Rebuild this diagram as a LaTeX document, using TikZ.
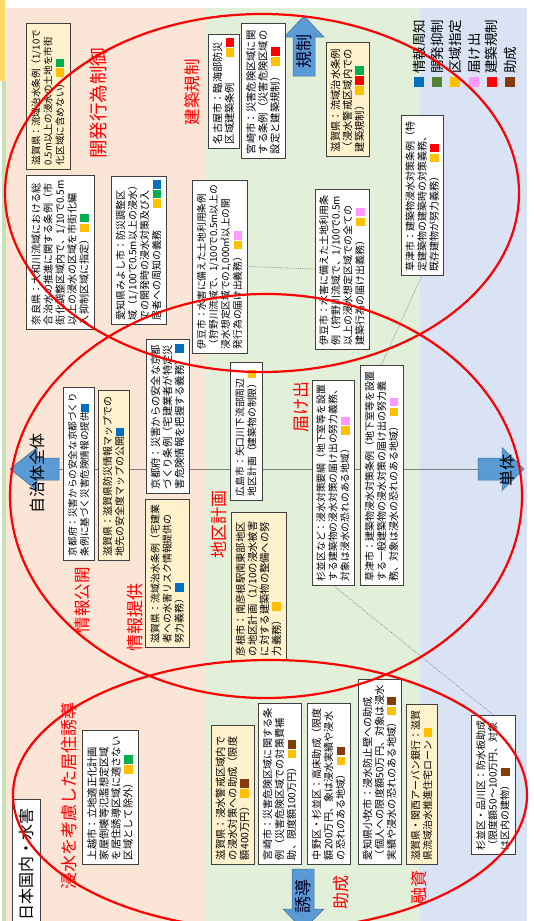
\documentclass[tikz,border=0pt]{standalone}
\usepackage{fontspec}
\setmainfont{Noto Sans CJK JP}
\definecolor{bgS}{HTML}{FBE5D6}
\definecolor{bgG}{HTML}{E2F0D9}
\definecolor{bgB}{HTML}{DAE3F3}
\definecolor{stripY}{HTML}{FFD966}
\definecolor{stripG}{HTML}{C5E0B4}
\definecolor{boxY}{HTML}{FFF2CC}
\definecolor{edge}{HTML}{404040}
\definecolor{cB}{HTML}{0070C0}
\definecolor{cG}{HTML}{00B050}
\definecolor{cGl}{HTML}{548235}
\definecolor{cY}{HTML}{FFC000}
\definecolor{cP}{HTML}{FF99FF}
\definecolor{cR}{HTML}{FF0000}
\definecolor{cBr}{HTML}{843C0C}
\definecolor{arrB}{HTML}{5B9BD5}
\definecolor{arrE}{HTML}{41719C}
\definecolor{axc}{HTML}{7F7F7F}
\newcommand\fs[1]{\fontsize{#1pt}{12pt}\selectfont}
\newcommand\sqr[1]{\textcolor{#1}{\rule[-0.08em]{0.85em}{0.85em}}\hspace{1.2pt}}
\tikzset{
  bx/.style={draw=edge, line width=0.6pt, fill=white, rotate=90, inner xsep=4pt, inner ysep=2pt, align=left},
  lbl/.style={rotate=90, text=cR, inner sep=0pt},
  arrtxt/.style={rotate=90, inner sep=0pt},
  legt/.style={rotate=90, anchor=west, inner sep=0pt, font=\fs{13.5}},
  ell/.style={draw=cR, line width=2.2pt},
  blk/.style={fill=arrB, draw=arrE, line width=0.5pt},
  dotc/.style={draw=axc, line width=0.6pt, dash pattern=on 1pt off 1.2pt},
}
\begin{document}
\begin{tikzpicture}[x=1pt,y=-1pt]
\useasboundingbox (0,0) rectangle (533,921);
\clip (0,0) rectangle (533,921);
\fill[white] (0,0) rectangle (533,921);
% backgrounds
\fill[stripY] (0,0) rectangle (5,81);
\fill[stripG] (2,81) rectangle (6,921);
\fill[bgS] (6,8) rectangle (205,921);
\fill[bgG] (205,8) rectangle (420,921);
\fill[bgB] (420,8) rectangle (527,921);
% axis
\coordinate (axL) at (59,469);
\coordinate (axR) at (478,469);
\draw[axc, line width=0.8pt] (axL) -- (axR);
% arrows
\filldraw[blk] (10,469) -- (37,447.5) -- (37,458) -- (59,458) -- (59,480) -- (37,480) -- (37,490.5) -- cycle;
\filldraw[blk] (524,469) -- (502,447.5) -- (502,458) -- (478,458) -- (478,480) -- (502,480) -- (502,490.5) -- cycle;
\filldraw[blk] (304,16) -- (324,37) -- (315,37) -- (315,76) -- (293,76) -- (293,37) -- (284,37) -- cycle;
\filldraw[blk] (303,930) -- (283,909) -- (292,909) -- (292,869) -- (314,869) -- (314,909) -- (324,909) -- cycle;
% legend
\fill[cB]  (414.3,77) rectangle (424.3,87);
\fill[cGl] (432.3,77) rectangle (442.3,87);
\fill[cY]  (450.3,77) rectangle (460.3,87);
\fill[cP]  (469,77) rectangle (479,87);
\fill[cR]  (486.8,77) rectangle (496.8,87);
\fill[cBr] (505.2,77) rectangle (515.2,87);
\node[legt] (lg1) at (419.3,74) {情報周知};
\node[legt] (lg2) at (437.3,74) {開発抑制};
\node[legt] (lg3) at (455.3,74) {区域指定};
\node[legt] (lg4) at (474,74) {届け出};
\node[legt] (lg5) at (491.8,74) {建築規制};
\node[legt] (lg6) at (510.2,74) {助成};
% boxes
\node[bx, fill=boxY, text width=138pt, minimum height=44pt, font=\fs{9.6}] (B1) at (48,96) {滋賀県：流域治水条例（1/10で\\0.5m以上の浸水の土地を市街\\化区域に含めない）\hspace{2pt}\sqr{cY}\sqr{cG}};
\node[bx, text width=146pt, minimum height=68pt, font=\fs{10.1}] (B2) at (60,252) {奈良県：大和川流域における総\\合治水の推進に関する条例（市\\街化調整区域内で、1/10で0.5m\\以上の浸水の区域を市街化編\\入抑制区域に指定）\hspace{2pt}\sqr{cY}\sqr{cG}};
\node[bx, text width=140pt, minimum height=55pt, font=\fs{10}] (B3) at (138.5,250) {愛知県みよし市：防災調整区\\域（1/100で0.5m以上の浸水）\\での開発時の浸水対策及び入\\居者への周知の義務\hfill\sqr{cY}\sqr{cG}\sqr{cB}\hspace{4pt}};
\node[bx, text width=165pt, minimum height=55pt, font=\fs{9.7}] (B4) at (219.5,266.5) {伊豆市：水害に備えた土地利用条例\\（狩野川流域で、1/100で0.5m以上の\\浸水想定区域での1,000㎡以上の開\\発行為の届け出義務）\hspace{3pt}\sqr{cY}\sqr{cP}};
\node[bx, text width=106pt, minimum height=31pt, font=\fs{10.2}] (B5) at (223.5,91) {名古屋市：臨海部防災\\区域建築条例\hfill\sqr{cY}\sqr{cR}};
\node[bx, text width=127pt, minimum height=44pt, font=\fs{10.3}] (B6) at (263,90.5) {宮崎市：災害危険区域に関\\する条例（災害危険区域の\\設定と建築規制）\hspace{6pt}\sqr{cY}\sqr{cR}};
\node[bx, fill=boxY, text width=106pt, minimum height=43pt, font=\fs{10.3}] (B7) at (347.5,99) {滋賀県：流域治水条例\\（浸水警戒区域内での\\建築規制）\hspace{6pt}\sqr{cY}\sqr{cR}\sqr{cG}};
\node[bx, text width=152pt, minimum height=42pt, font=\fs{10}] (B8) at (422,195) {草津市：建築物浸水対策条例（特\\定建築物の建築時の対策義務、\\既存建物が努力義務）\hspace{9pt}\sqr{cY}\sqr{cR}};
\node[bx, text width=152pt, minimum height=54pt, font=\fs{10}] (B9) at (342,269) {伊豆市：水害に備えた土地利用条\\例（狩野川流域で、1/100で0.5m\\以上の浸水想定区域での全ての\\建築行為の届け出義務）\hspace{9pt}\sqr{cY}\sqr{cP}};
\node[bx, text width=165pt, minimum height=31pt, font=\fs{9.6}] (B10) at (78.5,473.5) {京都府：災害からの安全な京都づくり\\条例に基づく災害危険情報の提供\sqr{cB}};
\node[bx, fill=boxY, text width=162pt, minimum height=31pt, font=\fs{10}] (B11) at (113.5,475) {滋賀県：滋賀県防災情報マップでの\\地先の安全度マップの公開\sqr{cB}};
\node[bx, text width=146pt, minimum height=43pt, font=\fs{10.3}] (B12) at (167.5,416) {京都府：災害からの安全な京都\\づくり条例（宅建業者が特定災\\害危険情報を把握する義務）\hspace{2pt}\sqr{cB}};
\node[bx, fill=boxY, text width=140pt, minimum height=44pt, font=\fs{9.9}] (B13) at (167,573) {滋賀県：流域治水条例（宅建業\\者への水害リスク情報提供の\\努力義務）\hspace{2pt}\sqr{cB}};
\node[bx, text width=130pt, minimum height=32pt, font=\fs{9.8}] (B14) at (246,431) {広島市：矢口川下流部周辺\\地区計画（建築物の制限）\sqr{cY}};
\node[bx, fill=boxY, text width=140pt, minimum height=55pt, font=\fs{10.3}] (B15) at (258.5,586) {彦根市：南彦根駅南東部地区\\の地区計画（1/10の浸水被害\\に対する建築物の整備への努\\力義務）\hspace{4pt}\sqr{cY}};
\node[bx, text width=197pt, minimum height=42pt, font=\fs{9.8}] (B16) at (333,482.5) {杉並区など：浸水対策要綱（地下室等を設置\\する建築物の浸水対策の届け出の努力義務、\\対象は浸水の恐れのある地域）\hspace{9pt}\sqr{cY}\sqr{cP}};
\node[bx, text width=212pt, minimum height=43pt, font=\fs{10}] (B17) at (381.5,475) {草津市：建築物浸水対策条例（地下室等を設置\\する一般建築物の浸水対策の届け出の努力義\\務、対象は浸水の恐れのある地域）\hspace{5pt}\sqr{cY}\sqr{cP}};
\node[bx, text width=126pt, minimum height=56pt, font=\fs{10.3}] (B18) at (110,797) {上越市：立地適正化計画\\家屋倒壊等氾濫想定区域\\を居住誘導区域に適さない\\区域として除外）\hspace{4pt}\sqr{cY}\sqr{cG}};
\node[bx, fill=boxY, text width=131pt, minimum height=43pt, font=\fs{10.3}] (B19) at (232.5,794.5) {滋賀県：浸水警戒区域内で\\の浸水対策への助成（限度\\額400万円）\hspace{4pt}\sqr{cY}\sqr{cBr}};
\node[bx, text width=153pt, minimum height=43pt, font=\fs{10.1}] (B20) at (279.5,783.5) {宮崎市：災害危険区域に関する条\\例（災害危険区域での対策費補\\助、限度額100万円）\hspace{4pt}\sqr{cY}\sqr{cBr}};
\node[bx, text width=153pt, minimum height=43pt, font=\fs{10.1}] (B21) at (328.5,783.5) {中野区・杉並区：高床助成（限度\\額200万円、象は浸水実績や浸水\\の恐れのある地域）\hspace{4pt}\sqr{cY}\sqr{cBr}};
\node[bx, text width=177pt, minimum height=43pt, font=\fs{10.2}] (B22) at (379.5,771.5) {愛知県小牧市：浸水防止壁への助成\\（個人への限度額50万円、対象は浸水\\実績や浸水の恐れのある地域）\hspace{2pt}\sqr{cY}\sqr{cBr}};
\node[bx, fill=boxY, text width=152pt, minimum height=31pt, font=\fs{10}] (B23) at (421.5,784) {滋賀県・関西アーバン銀行：滋賀\\県流域治水推進住宅ローン\hspace{4pt}\sqr{cY}};
\node[bx, text width=131pt, minimum height=44pt, font=\fs{10}] (B24) at (493,784.5) {杉並区・品川区：防水板助成\\（限度額50～100万円、対象\\は区内の建物）\hspace{4pt}\sqr{cBr}};
\node[bx, align=center, text width=122pt, minimum height=28pt, font=\fs{16}] (T) at (26,864) {日本国内・水害};
% dotted connectors
\draw[dotc] (B4.south) -- (B9.north);
\draw[dotc] (B8.west) -- (B17.east);
\draw[dotc] (B16.west) -- (B24.east);
% ellipses
\draw[ell] (262,193) ellipse [x radius=257pt, y radius=179pt];
\draw[ell] (266,496) ellipse [x radius=256pt, y radius=202pt];
\draw[ell] (270,795) ellipse [x radius=257pt, y radius=135pt];
% arrow texts
\node[arrtxt, font=\fs{16}] (tZ) at (37,473) {自治体全体};
\node[arrtxt, font=\fs{16}] (tT) at (507,470) {単体};
\node[arrtxt, font=\fs{17}, text={black!85!blue}] (tK) at (304,51) {規制};
\node[arrtxt, font=\fs{17}, text={black!85!blue}] (tY) at (303,896) {誘導};
% red labels
\node[lbl, font=\fs{18.5}] (L1) at (99,103) {開発行為制御};
\node[lbl, font=\fs{16.5}] (L2) at (192,92) {建築規制};
\node[lbl, font=\fs{16.5}] (L3) at (82,600) {情報公開};
\node[lbl, font=\fs{17}] (L4) at (135.5,617) {情報提供};
\node[lbl, font=\fs{17}] (L5) at (219,524) {地区計画};
\node[lbl, font=\fs{17}] (L6) at (301,407) {届け出};
\node[lbl, font=\fs{17}] (L7) at (69,796) {浸水を考慮した居住誘導};
\node[lbl, font=\fs{17}] (L8) at (341,892) {助成};
\node[lbl, font=\fs{17}] (L9) at (419,887) {融資};
\end{tikzpicture}
\end{document}
